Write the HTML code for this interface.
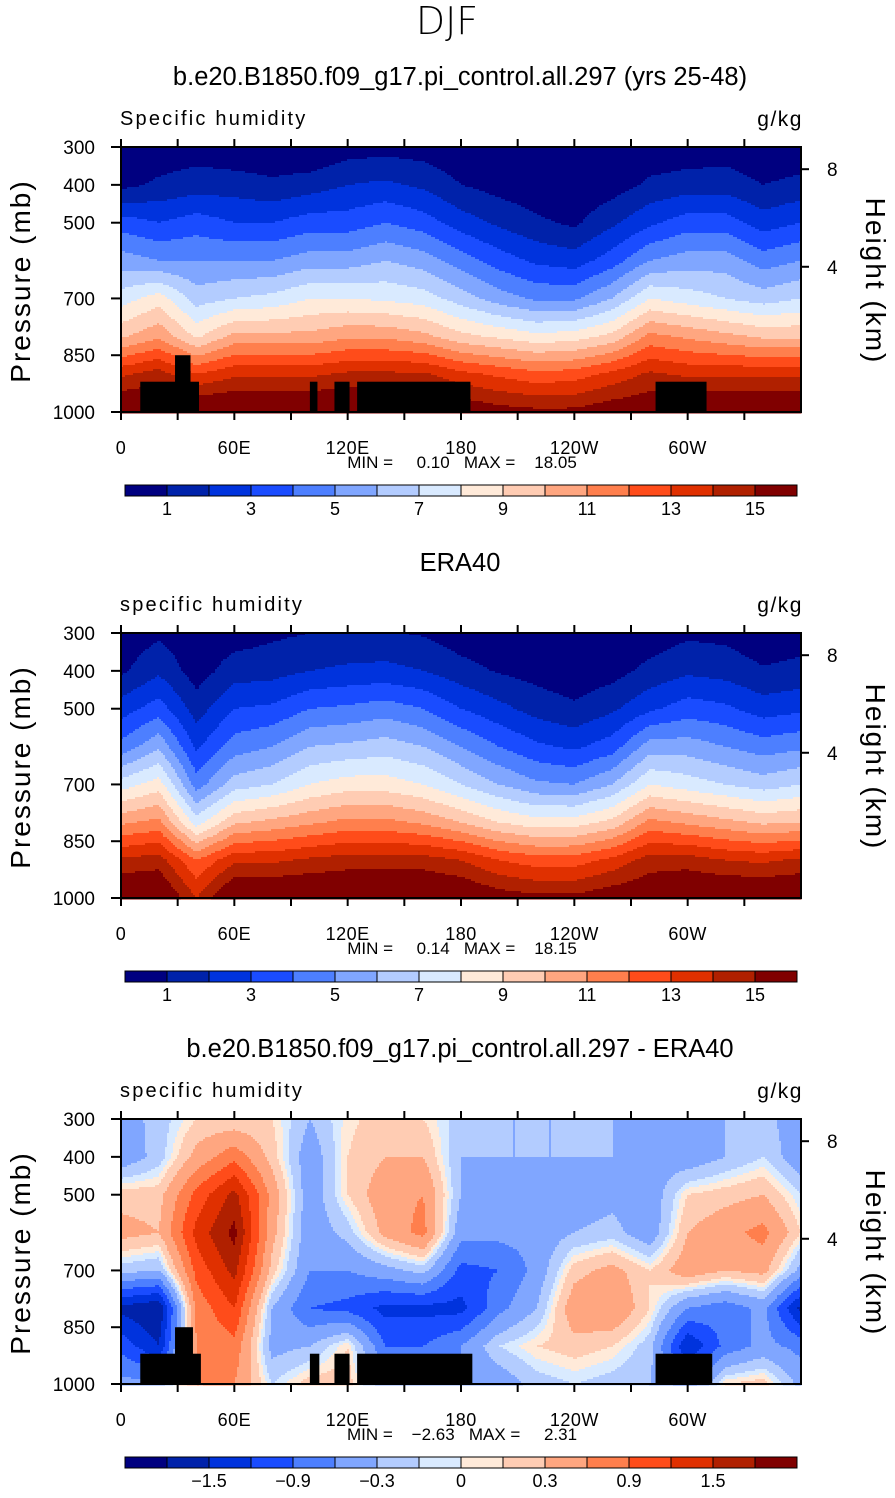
<!DOCTYPE html>
<html><head><meta charset="utf-8">
<style>
body{margin:0;background:#fff;}
svg text{font-family:"Liberation Sans",sans-serif;fill:#000;}
</style></head>
<body>
<svg id="fig" width="895" height="1493" xmlns="http://www.w3.org/2000/svg">
<text x="447" y="34" font-size="38" text-anchor="middle" style="font-family:'DejaVu Sans',sans-serif;font-weight:200">DJF</text>
</svg>
<script>
const lons=[0,20,40,60,80,100,120,140,160,180,200,220,240,260,280,300,320,340,360];
const plevs=[300,400,500,600,700,800,900,1000];
// model specific humidity (rows = pressure levels, cols = lons)
const modelQ=[
[0,0.3,0.5,0.2,0.2,0,0.5,0.6,0.5,0.2,0.1,0,0,0,0.3,0.3,0.5,0.2,0.2],
[0.7,1.2,1.5,1.5,1.2,1.5,2,2.2,1.8,1,0.6,0.3,0.2,0.5,1.2,1.5,1.5,1.0,1.3],
[3.5,3,3.5,3,3,3.5,3.5,4,3.5,2.5,1.8,1.2,0.8,1.8,2.8,3.5,3.5,2.5,3],
[5.5,5,5,5,5,5.5,5.5,6,5.5,4.5,3.5,2.8,2.5,3.5,5,5.5,5.5,4.5,5],
[7.5,8.5,6.5,7,7.3,8,8,7.8,7.5,6.5,5.5,4.8,4.8,6,8,7.5,7,6.5,7],
[9.8,10.8,8.8,10.3,10.3,10.3,10.8,10.8,10.3,9.3,8.8,8.3,8.5,9.3,11.3,10.8,10.3,9.8,9.8],
[13.8,14.5,13,13.8,13.8,13.8,14.2,14.2,14.2,13.3,12.8,12.3,12.5,13.3,14.2,13.8,13.8,13.8,13.8],
[16.5,16.5,16.5,16.5,16.5,16.5,16.5,16.5,16.5,16,15.5,15.3,15.3,15.8,16,16.5,16.5,16.5,16.5]];
const obsQ=[
[0.3,0.8,0.3,0.5,0.8,1.0,1.1,1.1,0.9,0.4,0.2,0.1,0,0.1,0.4,0.8,0.7,0.3,0.5],
[0.8,1.8,0.5,1.5,1.6,2,2.2,2.3,2,1.4,0.9,0.6,0.3,0.6,1.3,1.8,1.6,1.1,1.3],
[2.5,3.5,1.5,3,3.2,4,4.2,4.5,4,3,2.3,1.6,1.2,1.8,2.8,3.5,3.2,2.5,2.8],
[4.3,5.8,2.8,4.5,5,6,6.2,6.5,6,5,4,3.2,2.8,3.5,5.5,5.5,5,4.5,4.8],
[7.5,8.5,4.5,6.5,7,8,8.5,8.5,8,7,6,5.2,5,6,8,7.5,7,6.5,7],
[10.8,11.3,7.5,9.8,10.3,10.8,11.3,11.3,10.8,10,9,8.4,8.5,9.3,11.3,10.8,10.3,9.8,10],
[14.2,14.5,12,13.8,13.8,14.2,14.5,14.5,14.5,14,13,12.5,12.5,13.3,14.5,14.5,14,13.8,14.2],
[16.5,16.5,14,16.5,16.5,16.5,16.5,16.5,16.5,16.3,15.6,15.3,15.3,15.8,16,16.5,16.5,16.5,16.5]];
const diffQ=[
[-0.45,-0.2,0.1,0.1,0.1,-0.3,0.05,0.2,0.1,-0.2,-0.3,-0.3,-0.3,-0.3,-0.3,-0.3,-0.3,-0.2,-0.5],
[-0.5,-0.2,0.4,0.8,0.2,-0.5,0.1,0.3,0.3,-0.3,-0.3,-0.3,-0.3,-0.3,-0.4,-0.5,-0.3,-0.1,-0.5],
[0.2,0.2,1.0,1.6,0.5,-0.5,0.1,0.5,0.6,-0.3,-0.4,-0.5,-0.5,-0.4,-0.5,0.1,0.2,0.3,-0.1],
[0.4,0.3,1.3,1.9,0.4,-0.5,-0.2,0.4,0.7,-0.5,-0.5,-0.5,-0.3,-0.2,-0.5,0.3,0.5,0.7,0.1],
[-0.2,-0.3,1.0,1.6,0.2,-0.6,-0.6,-0.4,-0.2,-1.0,-0.9,-0.5,0.2,0.4,0.1,0.5,0.3,0.4,-0.4],
[-1.6,-1.8,0.7,1.2,-0.3,-0.9,-1.0,-1.3,-1.3,-1.3,-0.7,-0.3,0.5,0.6,0.1,-0.6,-0.8,-0.5,-1.6],
[-1.0,-1.5,0.6,0.8,-0.4,-0.3,0.1,-0.9,-0.9,-0.6,-0.1,0.1,0.2,0.1,-0.2,-1.5,-0.8,-0.5,-0.7],
[-0.5,-0.5,0.6,0.6,-0.1,0.2,0.2,-0.5,-0.5,-0.6,-0.5,-0.2,-0.1,-0.2,-0.3,-0.8,0.1,0.2,-0.4]];
const qLevels=[1,2,3,4,5,6,7,8,9,10,11,12,13,14,15];
const dLevels=[-1.8,-1.5,-1.2,-0.9,-0.6,-0.3,-0.1,0,0.1,0.3,0.6,0.9,1.2,1.5,1.8];
const qLabels=["1","3","5","7","9","11","13","15"];
const dLabels=["-1.5","-0.9","-0.3","0","0.3","0.9","1.5"];
const palette=["#000080","#0022AA","#0033DD","#1A4CFF","#4D7FFF","#80A6FF","#B3CCFF","#D9EAFF","#FFEAD9","#FFCCB3","#FFA680","#FF7F4D","#FF4C1A","#E03000","#B02000","#800000"];
const xTickLons=[0,30,60,90,120,150,180,210,240,270,300,330];
const xLabelLons=[0,60,120,180,240,300];
const xLabelText=["0","60E","120E","180","120W","60W"];
const yTicks=[300,400,500,700,850,1000];
const hTicks=[8,4];
// topography boxes [lonStart, lonEnd, pressureTop]
const topoLonA=[10.2,28.6,100,113,125,283];
const topoLonB=[41.3,36.8,104,121,185,310];
const topoTop=[920,850,920,920,920,920];
const topoLonB3=[42.3,38.1,105,121,186,313];

const NS="http://www.w3.org/2000/svg";
const svg=document.getElementById('fig');
function mk(tag,attrs,parent){const e=document.createElementNS(NS,tag);for(const k in attrs)e.setAttribute(k,attrs[k]);(parent||svg).appendChild(e);return e;}
function txt(s,x,y,size,anchor,parent){const t=mk('text',{x:x,y:y,'font-size':size,'text-anchor':anchor||'start'},parent);t.textContent=s;return t;}

const X0=121,X1=801,H=265;
function xs(lon){return X0+lon*(X1-X0)/360;}
function ys(p,top){return top+(p-300)*H/700;}
function interp(grid,lon,p){
  let i=0;while(i<lons.length-2&&lon>lons[i+1])i++;
  let j=0;while(j<plevs.length-2&&p>plevs[j+1])j++;
  const tx=(lon-lons[i])/(lons[i+1]-lons[i]),ty=(p-plevs[j])/(plevs[j+1]-plevs[j]);
  const a=grid[j][i]*(1-tx)+grid[j][i+1]*tx,b=grid[j+1][i]*(1-tx)+grid[j+1][i+1]*tx;
  return a*(1-ty)+b*ty;
}
function cls(v,levels){let k=0;while(k<levels.length&&v>=levels[k])k++;return k;}

function panel(cfg){
  const top=cfg.top;
  const g=mk('g',{});
  
  
  const tt=txt(cfg.title,460,top-62,25.5,'middle',g);
  
  
  const lt=txt(cfg.left,120,top-22,20,'start',g);lt.setAttribute('letter-spacing','2.2');
  
  
  const ut=txt('g/kg',803,top-21,21,'end',g);ut.setAttribute('letter-spacing','1.5');
  
  
  const field=mk('g',{},g);
  
  
  const step=2;
  for(let y=top;y<top+H;y+=step){
    const p=300+(y+step/2-top)*700/H;
    let runStart=X0,runC=-1;
    for(let x=X0;x<=X1;x+=step){
      let c=-2;
      if(x<X1){const lon=(x+step/2-X0)*360/(X1-X0);c=cls(interp(cfg.grid,lon,p),cfg.levels);}
      if(c!==runC){
        if(runC>=0){const r=mk('rect',{x:runStart,y:y,width:x-runStart+0.5,height:step+0.5,fill:palette[runC]},field);
          
          }
        runStart=x;runC=c;
      }
    }
  }
  if(cfg.topo){
    for(let i=0;i<topoLonA.length;i++){
      const b=cfg.topoB[i];
      const r=mk('rect',{x:xs(topoLonA[i]),y:ys(topoTop[i],top),width:xs(b)-xs(topoLonA[i]),height:ys(1000,top)-ys(topoTop[i],top),fill:'#000'},g);
      
      
    }
  }
  const fr=mk('rect',{x:X0,y:top,width:X1-X0,height:H,fill:'none',stroke:'#000','stroke-width':2},g);
  
  
  xTickLons.forEach(l=>{
    mk('line',{x1:xs(l),x2:xs(l),y1:top+H,y2:top+H+8,stroke:'#000','stroke-width':2},g);
    mk('line',{x1:xs(l),x2:xs(l),y1:top,y2:top-8,stroke:'#000','stroke-width':2},g);
  });
  xLabelLons.forEach((l,i)=>{const t=txt(xLabelText[i],xs(l),top+H+42,18,'middle',g);
    t.setAttribute('letter-spacing','0.5');
    
    });
  yTicks.forEach(p=>{
    mk('line',{x1:X0,x2:X0-10,y1:ys(p,top),y2:ys(p,top),stroke:'#000','stroke-width':2},g);
    const t=txt(String(p),95,ys(p,top)+7,19,'end',g);
    
    
  });
  hTicks.forEach(h=>{
    const p=1013.25*Math.pow(1-h/44.33,5.256);
    const y=ys(p,top)+(h===8?1:0);
    mk('line',{x1:X1,x2:X1+8,y1:y,y2:y,stroke:'#000','stroke-width':2},g);
    const t=txt(String(h),827,y+7,19,'start',g);
    
    
  });
  const yt=txt('Pressure (mb)',0,0,28,'middle',g);
  yt.setAttribute('transform',`translate(30,${top+134}) rotate(-90)`);
  yt.setAttribute('letter-spacing','2');
  
  
  const ht=txt('Height (km)',0,0,28,'middle',g);
  ht.setAttribute('transform',`translate(866,${top+134}) rotate(90)`);
  ht.setAttribute('letter-spacing','2');
  
  
  const mm=txt(cfg.minmax,462,top+321,17,'middle',g);
  mm.style.whiteSpace='pre';
  
  
  const cb=mk('g',{},g);
  
  
  const cy=top+338,bw=42;
  palette.forEach((c,i)=>{const r=mk('rect',{x:125+i*bw,y:cy,width:bw,height:11,fill:c,stroke:'#000','stroke-width':1},cb);
    
    });
  cfg.labels.forEach((s,i)=>{
    const idx=cfg.labelIdx[i];
    const t=txt(s.replace('-','\u2212'),125+(idx+1)*bw,cy+30,18,'middle',cb);
    
    
  });
}
panel({name:'model-panel',top:147,title:'b.e20.B1850.f09_g17.pi_control.all.297 (yrs 25-48)',left:'Specific humidity',grid:modelQ,levels:qLevels,topo:true,topoB:topoLonB,minmax:'MIN =     0.10   MAX =    18.05',labels:qLabels,labelIdx:[0,2,4,6,8,10,12,14]});
panel({name:'era40-panel',top:633,title:'ERA40',left:'specific humidity',grid:obsQ,levels:qLevels,topo:false,minmax:'MIN =     0.14   MAX =    18.15',labels:qLabels,labelIdx:[0,2,4,6,8,10,12,14]});
panel({name:'difference-panel',top:1119,title:'b.e20.B1850.f09_g17.pi_control.all.297 - ERA40',left:'specific humidity',grid:diffQ,levels:dLevels,topo:true,topoB:topoLonB3,minmax:'MIN =    \u22122.63   MAX =     2.31',labels:dLabels,labelIdx:[1,3,5,7,9,11,13]});
</script>
</body></html>
